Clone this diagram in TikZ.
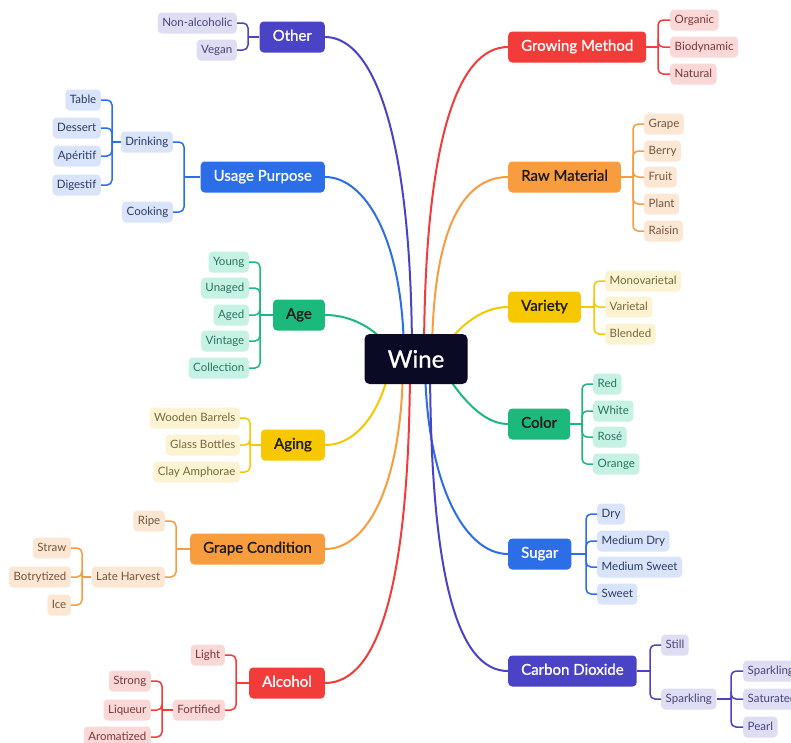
\documentclass[tikz,border=0pt]{standalone}
\usepackage{fontspec}
\setmainfont{Lato}
\newfontfamily\topicfont[FakeBold=0.9]{Lato}
\usetikzlibrary{backgrounds}

% palette: dark topic colour, light leaf fill, leaf text
\definecolor{indD}{HTML}{4B43C6}\definecolor{indL}{HTML}{DEDDF4}\definecolor{indT}{HTML}{45457A}
\definecolor{bluD}{HTML}{2C6DE8}\definecolor{bluL}{HTML}{D9E4FA}\definecolor{bluT}{HTML}{2B3B63}
\definecolor{grnD}{HTML}{1BB97C}\definecolor{grnL}{HTML}{C6F2E3}\definecolor{grnT}{HTML}{2A7560}
\definecolor{ylwD}{HTML}{F7C700}\definecolor{ylwL}{HTML}{FCF3D2}\definecolor{ylwT}{HTML}{76683A}
\definecolor{orgD}{HTML}{F89D3E}\definecolor{orgL}{HTML}{FCE7D5}\definecolor{orgT}{HTML}{74543A}
\definecolor{redD}{HTML}{F23C3A}\definecolor{redL}{HTML}{FAD8D8}\definecolor{redT}{HTML}{783838}
\definecolor{wineBg}{HTML}{0B0A24}
\definecolor{darkTxt}{HTML}{1A1A1A}

\tikzset{
  rootbox/.style={fill=wineBg, text=white, rounded corners=5pt, minimum width=103pt,
    minimum height=50pt, font=\topicfont\fontsize{24}{28}\selectfont},
  topic/.style={rounded corners=4pt, minimum height=31pt, inner xsep=13pt,
    text height=10.5pt, text depth=3pt, font=\topicfont\fontsize{15}{17}\selectfont},
  leaf/.style={rounded corners=4pt, minimum height=21pt, inner xsep=4.5pt, inner ysep=0pt,
    text height=8.5pt, text depth=2.5pt, font=\fontsize{11.5}{13}\selectfont},
  tInd/.style={topic, fill=indD, text=white},
  tBlu/.style={topic, fill=bluD, text=white},
  tGrn/.style={topic, fill=grnD, text=darkTxt},
  tYlw/.style={topic, fill=ylwD, text=darkTxt},
  tOrg/.style={topic, fill=orgD, text=darkTxt},
  tRed/.style={topic, fill=redD, text=white},
  lInd/.style={leaf, fill=indL, text=indT},
  lBlu/.style={leaf, fill=bluL, text=bluT},
  lGrn/.style={leaf, fill=grnL, text=grnT},
  lYlw/.style={leaf, fill=ylwL, text=ylwT},
  lOrg/.style={leaf, fill=orgL, text=orgT},
  lRed/.style={leaf, fill=redL, text=redT},
  kid/.style={draw=#1, line width=1.5pt, rounded corners=5pt},
  trunk/.style={draw=#1, line width=2pt},
}

% bracket from a parent on the right to children on its left
\newcommand{\leftkids}[4]{%
  \coordinate (#2-x) at (#3,0);
  \draw[kid=#1] (#2.west) -- (#2-x |- #2.west) coordinate (#2-sp);
  \foreach \k in {#4} {\draw[kid=#1] (#2-sp) |- (\k.east);}}
% bracket from a parent on the left to children on its right
\newcommand{\rightkids}[4]{%
  \coordinate (#2-x) at (#3,0);
  \draw[kid=#1] (#2.east) -- (#2-x |- #2.east) coordinate (#2-sp);
  \foreach \k in {#4} {\draw[kid=#1] (#2-sp) |- (\k.west);}}

\begin{document}
\begin{tikzpicture}[x=1pt, y=-1pt]
\useasboundingbox (0,0) rectangle (791,742);

\node[rootbox] (wine) at (416,359) {Wine};

% ---- left topics ----
\node[tInd, anchor=east] (other) at (325,37) {Other};
\node[lInd, anchor=east] (nonalc) at (237,23) {Non-alcoholic};
\node[lInd, anchor=east] (vegan) at (237,50) {Vegan};

\node[tBlu, anchor=east] (usage) at (325,177) {Usage Purpose};
\node[lBlu, anchor=east] (drinking) at (173,142) {Drinking};
\node[lBlu, anchor=east] (cooking) at (173,212) {Cooking};
\node[lBlu, anchor=east] (table) at (101,100) {Table};
\node[lBlu, anchor=east] (dessert) at (101,128) {Dessert};
\node[lBlu, anchor=east] (aperitif) at (101,156) {Apéritif};
\node[lBlu, anchor=east] (digestif) at (101,185) {Digestif};

\node[tGrn, anchor=east] (age) at (325,315) {Age};
\node[lGrn, anchor=east] (young) at (249,262) {Young};
\node[lGrn, anchor=east] (unaged) at (249,288) {Unaged};
\node[lGrn, anchor=east] (aged) at (249,315) {Aged};
\node[lGrn, anchor=east] (vintage) at (249,341) {Vintage};
\node[lGrn, anchor=east] (collection) at (249,368) {Collection};

\node[tYlw, anchor=east] (aging) at (325,445) {Aging};
\node[lYlw, anchor=east] (wooden) at (240,418) {Wooden Barrels};
\node[lYlw, anchor=east] (glass) at (240,445) {Glass Bottles};
\node[lYlw, anchor=east] (clay) at (240,472) {Clay Amphorae};

\node[tOrg, anchor=east] (grapecond) at (325,549) {Grape Condition};
\node[lOrg, anchor=east] (ripe) at (165,521) {Ripe};
\node[lOrg, anchor=east] (late) at (165,577) {Late Harvest};
\node[lOrg, anchor=east] (straw) at (71,548) {Straw};
\node[lOrg, anchor=east] (botry) at (71,577) {Botrytized};
\node[lOrg, anchor=east] (ice) at (71,605) {Ice};

\node[tRed, anchor=east] (alcohol) at (325,683) {Alcohol};
\node[lRed, anchor=east] (light) at (225,655) {Light};
\node[lRed, anchor=east] (fortified) at (225,710) {Fortified};
\node[lRed, anchor=east] (strong) at (151,681) {Strong};
\node[lRed, anchor=east] (liqueur) at (151,710) {Liqueur};
\node[lRed, anchor=east] (aromatized) at (151,737) {Aromatized};

% ---- right topics ----
\node[tRed, anchor=west] (growing) at (508,47) {Growing Method};
\node[lRed, anchor=west] (organic) at (670,20) {Organic};
\node[lRed, anchor=west] (biodyn) at (670,47) {Biodynamic};
\node[lRed, anchor=west] (natural) at (670,74) {Natural};

\node[tOrg, anchor=west] (raw) at (508,177) {Raw Material};
\node[lOrg, anchor=west] (grape) at (644,124) {Grape};
\node[lOrg, anchor=west] (berry) at (644,151) {Berry};
\node[lOrg, anchor=west] (fruit) at (644,177) {Fruit};
\node[lOrg, anchor=west] (plant) at (644,204) {Plant};
\node[lOrg, anchor=west] (raisin) at (644,231) {Raisin};

\node[tYlw, anchor=west] (variety) at (508,307) {Variety};
\node[lYlw, anchor=west] (mono) at (605,281) {Monovarietal};
\node[lYlw, anchor=west] (varietal) at (605,307) {Varietal};
\node[lYlw, anchor=west] (blended) at (605,334) {Blended};

\node[tGrn, anchor=west] (color) at (508,424) {Color};
\node[lGrn, anchor=west] (red) at (593,384) {Red};
\node[lGrn, anchor=west] (white) at (593,411) {White};
\node[lGrn, anchor=west] (rose) at (593,437) {Rosé};
\node[lGrn, anchor=west] (orange) at (593,464) {Orange};

\node[tBlu, anchor=west] (sugar) at (508,554) {Sugar};
\node[lBlu, anchor=west] (dry) at (597,514) {Dry};
\node[lBlu, anchor=west] (meddry) at (597,541) {Medium Dry};
\node[lBlu, anchor=west] (medsweet) at (597,567) {Medium Sweet};
\node[lBlu, anchor=west] (sweet) at (597,594) {Sweet};

\node[tInd, anchor=west] (co2) at (508,671) {Carbon Dioxide};
\node[lInd, anchor=west] (still) at (661,645) {Still};
\node[lInd, anchor=west] (sparkling) at (661,699) {Sparkling};
\node[lInd, anchor=west] (sparkling2) at (743,671) {Sparkling};
\node[lInd, anchor=west] (saturated) at (743,699) {Saturated};
\node[lInd, anchor=west] (pearl) at (743,727) {Pearl};

% ---- brackets to the leaves ----
\leftkids{indD}{other}{248}{nonalc,vegan}
\leftkids{bluD}{usage}{184}{drinking,cooking}
\leftkids{bluD}{drinking}{112}{table,dessert,aperitif,digestif}
\leftkids{grnD}{age}{260}{young,unaged,aged,vintage,collection}
\leftkids{ylwD}{aging}{250}{wooden,glass,clay}
\leftkids{orgD}{grapecond}{176}{ripe,late}
\leftkids{orgD}{late}{82}{straw,botry,ice}
\leftkids{redD}{alcohol}{236}{light,fortified}
\leftkids{redD}{fortified}{162}{strong,liqueur,aromatized}

\rightkids{redD}{growing}{658}{organic,biodyn,natural}
\rightkids{orgD}{raw}{633}{grape,berry,fruit,plant,raisin}
\rightkids{ylwD}{variety}{594}{mono,varietal,blended}
\rightkids{grnD}{color}{582}{red,white,rose,orange}
\rightkids{bluD}{sugar}{586}{dry,meddry,medsweet,sweet}
\rightkids{indD}{co2}{650}{still,sparkling}
\rightkids{indD}{sparkling}{731}{sparkling2,saturated,pearl}

% ---- trunks from the root, behind the boxes ----
\begin{pgfonlayer}{background}
\fill[white] (0,0) rectangle (791,742);
\draw[trunk=indD] (other.east) .. controls +(50,0) and +(0,-220) .. ([xshift=-4pt]wine.center);
\draw[trunk=bluD] (usage.east) .. controls +(40,0) and +(0,-120) .. ([xshift=-12pt]wine.center);
\draw[trunk=redD] (growing.west) .. controls +(-50,0) and +(0,-220) .. ([xshift=8pt]wine.center);
\draw[trunk=orgD] (raw.west) .. controls +(-45,0) and +(0,-130) .. ([xshift=16pt]wine.center);
\draw[trunk=grnD] (age.east) .. controls +(30,0) and +(-15,-25) .. ([xshift=-20pt,yshift=2pt]wine.center);
\draw[trunk=ylwD] (variety.west) .. controls +(-30,0) and +(15,-25) .. ([xshift=22pt,yshift=2pt]wine.center);
\draw[trunk=grnD] (color.west) .. controls +(-30,0) and +(15,25) .. ([xshift=22pt,yshift=-2pt]wine.center);
\draw[trunk=ylwD] (aging.east) .. controls +(35,0) and +(-7,40) .. ([xshift=-26pt,yshift=-6pt]wine.center);
\draw[trunk=orgD] (grapecond.east) .. controls +(45,0) and +(0,120) .. ([xshift=-13pt]wine.center);
\draw[trunk=redD] (alcohol.east) .. controls +(55,0) and +(0,220) .. ([xshift=-6pt]wine.center);
\draw[trunk=bluD] (sugar.west) .. controls +(-45,0) and +(0,120) .. ([xshift=9pt]wine.center);
\draw[trunk=indD] (co2.west) .. controls +(-50,0) and +(0,220) .. ([xshift=14pt]wine.center);
\end{pgfonlayer}
\end{tikzpicture}
\end{document}
